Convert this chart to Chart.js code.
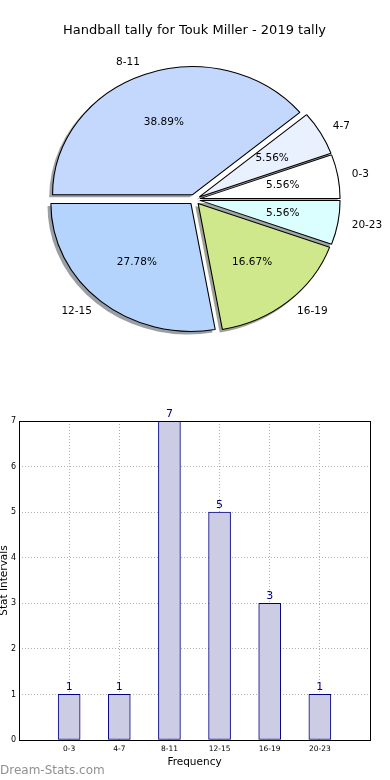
<!DOCTYPE html>
<html>
<head>
<meta charset="utf-8">
<title>Handball tally for Touk Miller - 2019 tally</title>
<script src="https://cdn.jsdelivr.net/npm/chart.js@4.4.1/dist/chart.umd.min.js"></script>
<style>
  body { margin: 0; background: #fff; width: 390px; height: 780px; position: relative; overflow: hidden; font-family: 'DejaVu Sans', sans-serif; }
  .box { position: absolute; left: 0; width: 390px; height: 390px; }
  #pieBox { top: 0; }
  #barBox { top: 390px; }
  #credit { position: absolute; left: 0; top: 763px; font-size: 12px; line-height: 14px; color: #909090; }
</style>
</head>
<body>
<div id="pieBox" class="box"><canvas id="pieChart" width="390" height="390"></canvas></div>
<div id="barBox" class="box"><canvas id="barChart" width="390" height="390"></canvas></div>
<div id="credit">Dream-Stats.com</div>
<script>
// chart data
const chartTitle = 'Handball tally for Touk Miller - 2019 tally';
const intervals = ['0-3', '4-7', '8-11', '12-15', '16-19', '20-23'];
const tally = [1, 1, 7, 5, 3, 1];
const sliceColors = ['#ffffff', '#e9f0fe', '#c4d8fe', '#b4d4fe', '#cfe88b', '#dbfefe'];
const yTicks = [0, 1, 2, 3, 4, 5, 6, 7];

const FONT = "'DejaVu Sans', sans-serif";
const EXPLODE = 0.04;   // each wedge pushed out by this share of the radius
const STRETCH = 1.094;  // the pie is a little wider than tall
const SHADOW = 0.02;    // shadow offset, share of the radius

function shadeOf(hex) {
    const n = parseInt(hex.slice(1), 16);
    const r = (n >> 16) & 255, g = (n >> 8) & 255, b = n & 255;
    return `rgba(${Math.round(r * 0.3)},${Math.round(g * 0.3)},${Math.round(b * 0.3)},0.5)`;
}

// Pie: exploded wedges with shadows, stretched into an ellipse, plus labels
const pieExtras = {
    id: 'pieExtras',
    beforeDatasetsDraw(chart) {
        const ctx = chart.ctx;
        const arcs = chart.getDatasetMeta(0).data;
        const cx = arcs[0].x, cy = arcs[0].y;
        ctx.save();
        ctx.translate(cx, cy);
        ctx.scale(STRETCH, 1);
        ctx.translate(-cx, -cy);

        arcs.forEach(arc => {
            const mid = (arc.startAngle + arc.endAngle) / 2;
            const r = arc.outerRadius;
            const x = arc.x + Math.cos(mid) * EXPLODE * r - SHADOW * r;
            const y = arc.y + Math.sin(mid) * EXPLODE * r + SHADOW * r;
            ctx.beginPath();
            ctx.moveTo(x, y);
            ctx.arc(x, y, r + 0.5, arc.startAngle, arc.endAngle);
            ctx.closePath();
            ctx.fillStyle = shadeOf(arc.options.backgroundColor);
            ctx.fill();
        });

        arcs.forEach(arc => {
            const mid = (arc.startAngle + arc.endAngle) / 2;
            ctx.save();
            ctx.translate(Math.cos(mid) * EXPLODE * arc.outerRadius, Math.sin(mid) * EXPLODE * arc.outerRadius);
            arc.draw(ctx);
            ctx.restore();
        });

        ctx.restore();
        return false;
    },
    afterDraw(chart) {
        const ctx = chart.ctx;
        const arcs = chart.getDatasetMeta(0).data;
        const data = chart.data.datasets[0].data;
        const total = data.reduce((a, b) => a + b, 0);
        ctx.save();
        ctx.font = `10.5px ${FONT}`;
        ctx.fillStyle = '#000';
        ctx.textBaseline = 'middle';
        arcs.forEach((arc, i) => {
            const mid = (arc.startAngle + arc.endAngle) / 2;
            const r = arc.outerRadius;
            const cos = Math.cos(mid), sin = Math.sin(mid);

            const lr = (1.1 + EXPLODE) * r;
            ctx.textAlign = cos > 0 ? 'left' : 'right';
            ctx.fillText(chart.data.labels[i], arc.x + lr * cos * STRETCH, arc.y + lr * sin);

            const pr = (0.6 + EXPLODE) * r;
            ctx.textAlign = 'center';
            ctx.fillText((data[i] / total * 100).toFixed(2) + '%', arc.x + pr * cos * STRETCH, arc.y + pr * sin);
        });
        ctx.restore();
    }
};

// pie goes clockwise from east in Chart.js, so feed it in reverse
const pieLabels = intervals.slice().reverse();
const pieData = tally.slice().reverse();
const pieColors = sliceColors.slice().reverse();

new Chart(document.getElementById('pieChart'), {
    type: 'pie',
    data: {
        labels: pieLabels,
        datasets: [{
            data: pieData,
            backgroundColor: pieColors,
            borderColor: '#000',
            borderWidth: 1
        }]
    },
    options: {
        responsive: false,
        animation: false,
        rotation: 90,
        radius: 128,
        layout: { padding: { top: 0, left: 0, right: 1, bottom: 29.6 } },
        plugins: {
            legend: { display: false },
            tooltip: { enabled: false },
            title: {
                display: true,
                text: chartTitle,
                color: '#000',
                font: { family: FONT, size: 13, weight: 'normal' },
                padding: { top: 23, bottom: 0 }
            }
        }
    },
    plugins: [pieExtras]
});

// Bar: frame around plot and value labels above bars
const barExtras = {
    id: 'barExtras',
    afterDatasetsDraw(chart) {
        const ctx = chart.ctx;
        const bars = chart.getDatasetMeta(0).data;
        ctx.save();
        ctx.font = `11px ${FONT}`;
        ctx.fillStyle = '#000080';
        ctx.textAlign = 'center';
        ctx.textBaseline = 'alphabetic';
        bars.forEach((bar, i) => {
            ctx.fillText(String(tally[i]), bar.x, bar.y - 4);
        });
        ctx.restore();
    },
    afterDraw(chart) {
        const { ctx, chartArea: a } = chart;
        ctx.save();
        ctx.strokeStyle = '#000';
        ctx.lineWidth = 1;
        ctx.strokeRect(Math.round(a.left) + 0.5, Math.round(a.top) + 0.5,
            Math.round(a.right - a.left), Math.round(a.bottom - a.top));
        ctx.restore();
    }
};

new Chart(document.getElementById('barChart'), {
    type: 'bar',
    data: {
        datasets: [{
            data: intervals.map((c, i) => ({ x: i, y: tally[i] })),
            backgroundColor: '#ccccE4',
            borderColor: '#000080',
            borderWidth: 1,
            borderSkipped: false,
            barThickness: 22
        }]
    },
    options: {
        responsive: false,
        animation: false,
        layout: { padding: { top: 31, right: 20, left: 0, bottom: 0 } },
        plugins: { legend: { display: false }, tooltip: { enabled: false } },
        scales: {
            x: {
                type: 'linear',
                min: -1,
                max: 6,
                offset: false,
                z: 1,
                afterBuildTicks: scale => { scale.ticks = intervals.map((c, i) => ({ value: i })); },
                afterFit: scale => { scale.height = 40; },
                ticks: {
                    callback: v => intervals[v],
                    autoSkip: false,
                    maxRotation: 0,
                    padding: 5,
                    color: '#000',
                    font: { family: FONT, size: 7.5 }
                },
                grid: { color: '#b0b0b0', lineWidth: 1, drawTicks: false, offset: false },
                border: { display: false, dash: [1, 2] },
                title: {
                    display: true,
                    text: 'Frequency',
                    color: '#000',
                    font: { family: FONT, size: 10.5 },
                    padding: { top: 0, bottom: 11.7 }
                }
            },
            y: {
                min: 0,
                max: 7,
                z: 1,
                afterBuildTicks: scale => { scale.ticks = yTicks.map(v => ({ value: v })); },
                afterFit: scale => { scale.width = 19; },
                ticks: {
                    padding: 3,
                    color: '#000',
                    font: { family: FONT, size: 8 }
                },
                grid: { color: '#b0b0b0', lineWidth: 1, drawTicks: false },
                border: { display: false, dash: [1, 2] },
                title: {
                    display: true,
                    text: 'Stat Intervals',
                    color: '#000',
                    font: { family: FONT, size: 10.5 },
                    padding: { top: -2, bottom: 0 }
                }
            }
        }
    },
    plugins: [barExtras]
});
</script>
</body>
</html>
